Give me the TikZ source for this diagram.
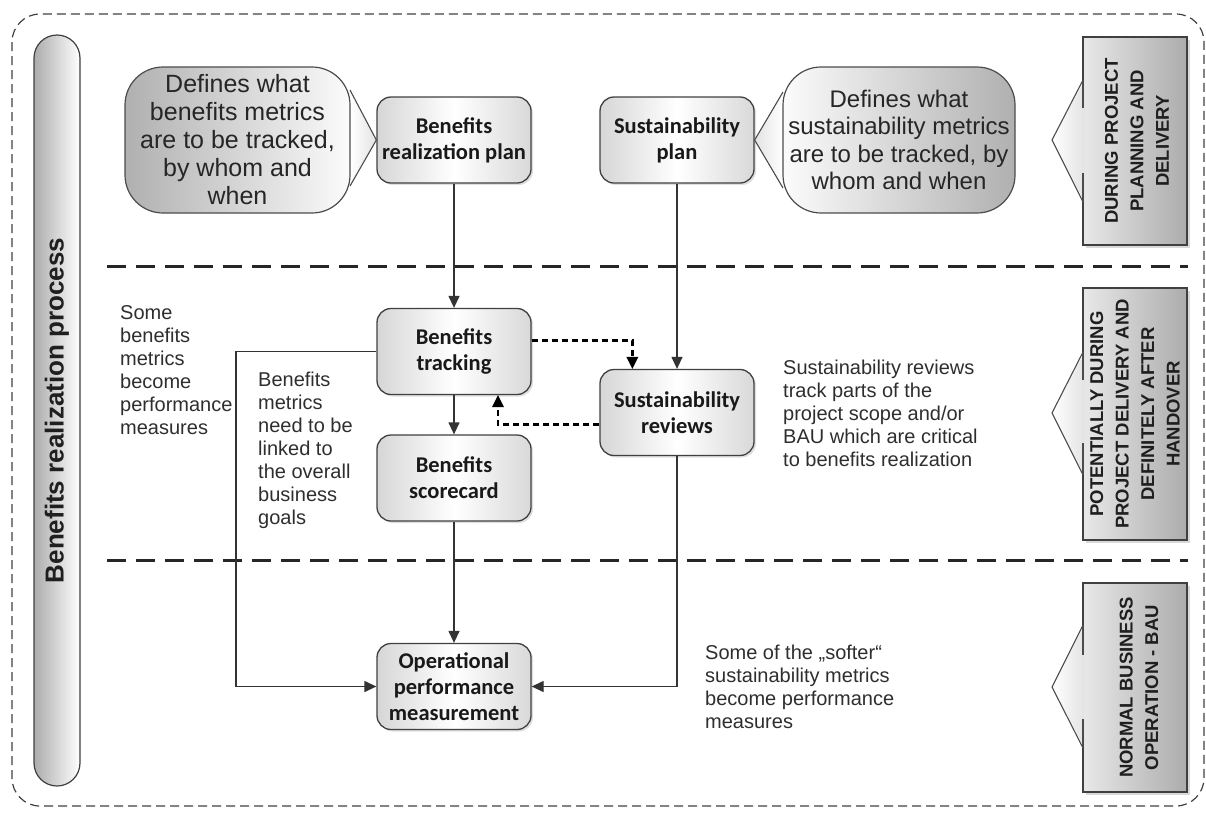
\documentclass[tikz,border=0pt]{standalone}
\usepackage{fontspec}
\setmainfont{Liberation Sans}
\newfontfamily\boxfont{Carlito}
\usetikzlibrary{arrows.meta,shadows,calc}
\begin{document}
\begin{tikzpicture}[x=1pt,y=-1pt,
  proc/.style={draw=black!75, line width=1.3pt, rounded corners=14pt,
    minimum width=154pt, minimum height=86pt, inner sep=0pt, align=center,
    font=\boxfont\bfseries\fontsize{22.5}{26}\selectfont, text=black!90,
    left color=gray!32, right color=gray!30, middle color=white,
    drop shadow={shadow xshift=2pt, shadow yshift=-2pt, opacity=0.25}},
  calloutL/.style={draw=black!70, line width=1.2pt, rounded corners=38pt,
    inner sep=0pt, align=center, left color=gray!62, right color=gray!3,
    font=\fontsize{25}{28}\selectfont, text=black!85},
  calloutR/.style={calloutL, left color=gray!3, right color=gray!62,
    font=\fontsize{24}{27.5}\selectfont},
  sidebox/.style={draw=black!75, line width=1.2pt, inner sep=0pt,
    minimum width=104pt, left color=gray!18, right color=gray!65,
    drop shadow={shadow xshift=2.5pt, shadow yshift=-2.5pt, opacity=0.3}},
  sidetext/.style={rotate=90, align=center, inner sep=0pt,
    font=\bfseries\fontsize{18.5}{25.5}\selectfont, text=black!88},
  ptrfill/.style={left color=white, right color=gray!22, draw=none},
  ptrline/.style={draw=black!70, line width=1.1pt},
  note/.style={align=left, inner sep=0pt, anchor=north west,
    font=\fontsize{20}{23}\selectfont, text=black!82},
  conn/.style={draw=black!80, line width=1.3pt, -{Triangle[length=12pt,width=11pt]}},
  dconn/.style={draw=black, line width=2.6pt, dash pattern=on 6pt off 4pt,
    -{Triangle[length=12pt,width=12pt,line width=0pt]}},
  sep/.style={draw=black!85, line width=3pt, dash pattern=on 19pt off 10pt},
]
\useasboundingbox (0,0) rectangle (1206,812);
% outer frame
\draw[black!75, line width=1.2pt, dash pattern=on 9pt off 5pt, rounded corners=28pt]
  (12,14) rectangle (1204,806);
% separators
\coordinate (s1a) at (107,266); \coordinate (s1b) at (1188,266);
\coordinate (s2a) at (107,560); \coordinate (s2b) at (1188,560);
\draw[sep] (s1a) -- (s1b);
\draw[sep] (s2a) -- (s2b);
% left pill
\node[draw=black!75, line width=1.2pt, rounded corners=23pt, minimum width=46pt,
  minimum height=751pt, inner sep=0pt, left color=gray!65, right color=white]
  (pill) at (57,410.5) {};
\node[rotate=90, inner sep=0pt, font=\bfseries\fontsize{26}{30}\selectfont, text=black!88]
  (pilltext) at (pill.center) {Benefits realization process};

% process boxes
\node[proc] (brp) at (454,140) {Benefits\\realization plan};
\node[proc] (sp) at (677,140) {Sustainability\\plan};
\node[proc] (bt) at (454,351.5) {Benefits\\tracking};
\node[proc] (sr) at (677,412.5) {Sustainability\\reviews};
\node[proc] (bs) at (454,478) {Benefits\\scorecard};
\node[proc] (opm) at (454,686.5) {Operational\\performance\\measurement};

% left callout
\coordinate (clt) at (350,90); \coordinate (clb) at (350,186);
\path[ptrfill] (clt) -- (brp.west) -- (clb) -- cycle;
\draw[ptrline] (clt) -- (brp.west) -- (clb);
\node[calloutL, minimum width=225pt, minimum height=146pt] (cl) at (237.5,140)
  {Defines what\\benefits metrics\\are to be tracked,\\by whom and\\when};
% right callout
\coordinate (crt) at (783,92); \coordinate (crb) at (783,188);
\path[left color=gray!22, right color=white, draw=none] (crt) -- (sp.east) -- (crb) -- cycle;
\draw[ptrline] (crt) -- (sp.east) -- (crb);
\node[calloutR, minimum width=232pt, minimum height=146pt] (cr) at (899,140)
  {Defines what\\sustainability metrics\\are to be tracked, by\\whom and when};

% side boxes
\node[sidebox, minimum height=208pt] (r1) at (1135,141) {};
\node[sidebox, minimum height=252pt] (r2) at (1135,414) {};
\node[sidebox, minimum height=209pt] (r3) at (1135,687.5) {};
% side pointers
\foreach \n/\yt/\ya/\yb/\yc/\yd in {r1/140/80/108/173/202, r2/413/352/380/443/475, r3/687/625/655/719/748}{
  \path[ptrfill] (1052,\yt) -- (1084.5,\ya) -- (1084.5,\yd) -- cycle;
  \draw[ptrline] (1083,\ya) -- (1052,\yt) -- (1083,\yd);
  \draw[ptrline] (1083,\ya) -- (1083,\yb);
  \draw[ptrline] (1083,\yc) -- (1083,\yd);
}
\node[sidetext] (t1) at ([xshift=2pt]r1.center) {DURING PROJECT\\PLANNING AND\\DELIVERY};
\node[sidetext] (t2) at (r2.center) {POTENTIALLY DURING\\PROJECT DELIVERY AND\\DEFINITELY AFTER\\HANDOVER};
\node[sidetext] (t3) at ([xshift=4pt]r3.center) {NORMAL BUSINESS\\OPERATION - BAU};

% connectors
\draw[conn] (brp.south) -- (bt.north);
\draw[conn] (sp.south) -- (sr.north);
\draw[conn] (bt.south) -- (bs.north);
\draw[conn] (bs.south) -- (opm.north);
\draw[dconn] ([yshift=11pt]bt.east) -| ($(sr.north west)+(33,0)$);
\draw[dconn] ([yshift=-12pt]sr.west) -| ($(bt.south)+(44,0)$);
\coordinate (lc) at (236,351.5);
\draw[conn] (bt.west) -- (lc) |- (opm.west);
\draw[conn] (sr.south) |- (opm.east);

% notes
\node[note] (n1) at (120,305) {Some\\benefits\\metrics\\become\\performance\\measures};
\node[note] (n2) at (258,372) {Benefits\\metrics\\need to be\\linked to\\the overall\\business\\goals};
\node[note] (n3) at (783,360) {Sustainability reviews\\track parts of the\\project scope and/or\\BAU which are critical\\to benefits realization};
\node[note] (n4) at (705,645) {Some of the „softer“\\sustainability metrics\\become performance\\measures};
\end{tikzpicture}
\end{document}
